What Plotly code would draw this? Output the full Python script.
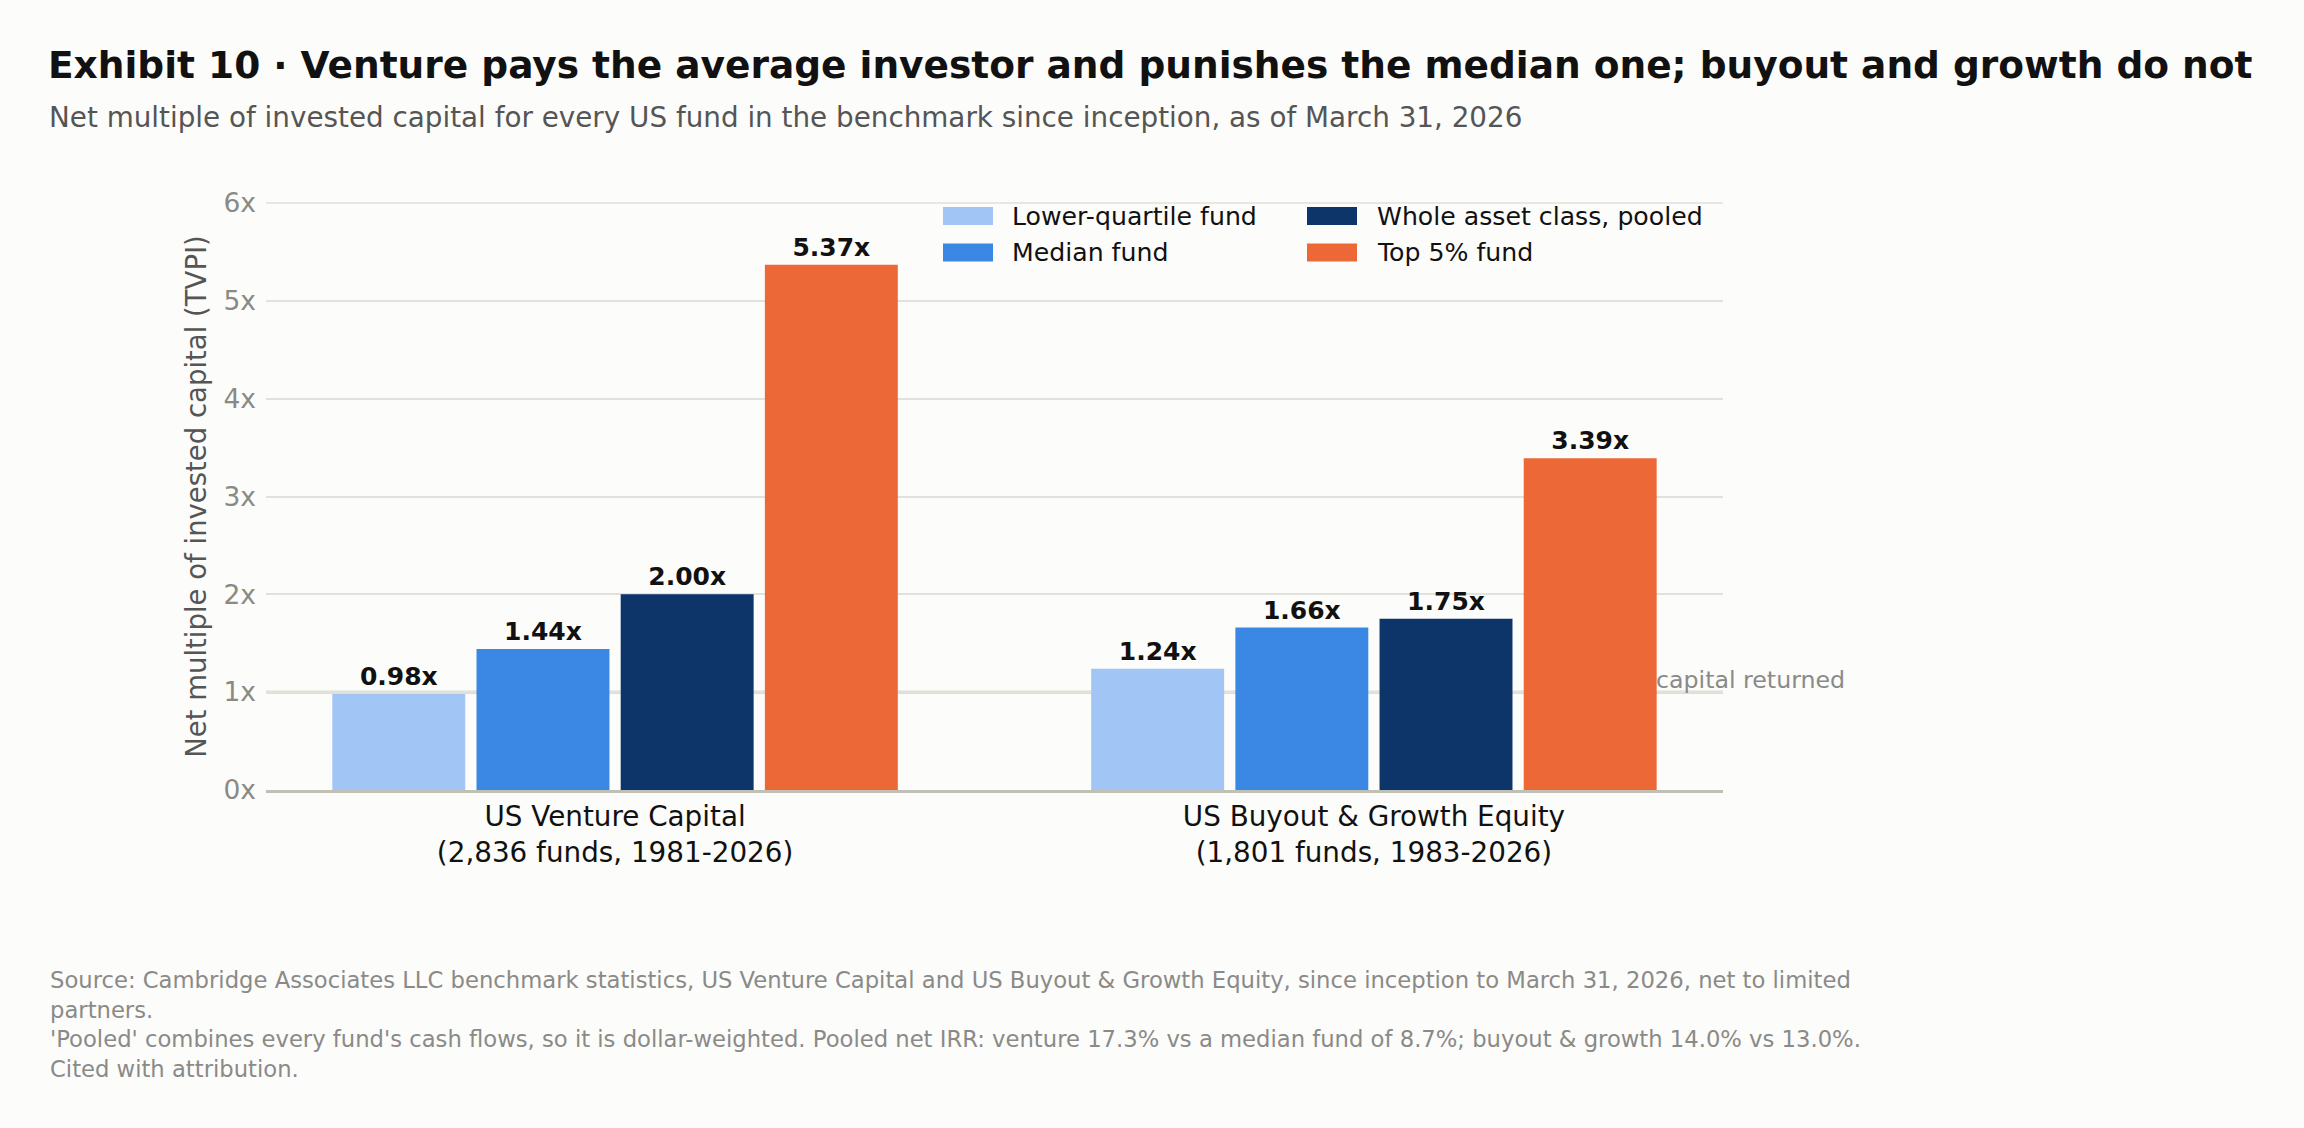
import plotly.graph_objects as go

# ---- data ----
categories = [
    "US Venture Capital<br>(2,836 funds, 1981-2026)",
    "US Buyout & Growth Equity<br>(1,801 funds, 1983-2026)",
]
series_names = ["Lower-quartile fund", "Median fund", "Whole asset class, pooled", "Top 5% fund"]
lower_quartile = [0.98, 1.24]
median_fund = [1.44, 1.66]
pooled = [2.00, 1.75]
top5 = [5.37, 3.39]
y_tick_vals = [0, 1, 2, 3, 4, 5, 6]
y_tick_text = ["0x", "1x", "2x", "3x", "4x", "5x", "6x"]

title_text = "Exhibit 10 · Venture pays the average investor and punishes the median one; buyout and growth do not"
subtitle_text = "Net multiple of invested capital for every US fund in the benchmark since inception, as of March 31, 2026"
footer_text = (
    "Source: Cambridge Associates LLC benchmark statistics, US Venture Capital and US Buyout &amp; Growth Equity, since inception to March 31, 2026, net to limited<br>"
    "partners.<br>"
    "'Pooled' combines every fund's cash flows, so it is dollar-weighted. Pooled net IRR: venture 17.3% vs a median fund of 8.7%; buyout &amp; growth 14.0% vs 13.0%.<br>"
    "Cited with attribution."
)
ref_label = "capital returned"

# ---- style ----
colors = ["#a1c5f4", "#3a88e4", "#0d356a", "#ec6836"]
FONT = "DejaVu Sans"
BG = "#fcfcfa"
W, H = 2304, 1128
L, R, T, B = 266, 581, 203, 338
PW, PH = W - L - R, H - T - B


def px(x):
    return (x - L) / PW


def py(y):
    return (H - B - y) / PH


fig = go.Figure()
for name, vals, col in zip(series_names, [lower_quartile, median_fund, pooled, top5], colors):
    fig.add_trace(go.Bar(
        name=name, x=categories, y=vals, marker=dict(color=col, line=dict(width=0)),
        texttemplate="%{y:.2f}x", textposition="outside", constraintext="none",
        textfont=dict(family=FONT, size=25, color="#111111", weight="bold"),
        cliponaxis=False, showlegend=False, hoverinfo="skip",
    ))

shapes = [
    dict(type="line", xref="paper", yref="y", x0=0, x1=1, y0=1, y1=1,
         line=dict(color="#c0c0b5", width=2.7), layer="between"),
    dict(type="line", xref="paper", yref="paper", x0=0, x1=1, y0=1, y1=1,
         line=dict(color="#e2e2db", width=1.7), layer="below"),
]
annotations = [
    dict(text=title_text, xref="paper", yref="paper", x=px(46), y=py(65.4), xanchor="left", yanchor="middle",
         showarrow=False, font=dict(family=FONT, size=37.5, color="#111111", weight="bold")),
    dict(text=subtitle_text, xref="paper", yref="paper", x=px(47), y=py(117), xanchor="left", yanchor="middle",
         showarrow=False, font=dict(family=FONT, size=27.8, color="#555555")),
    dict(text=footer_text, xref="paper", yref="paper", x=px(47.5), y=py(965), xanchor="left", yanchor="top",
         align="left", showarrow=False, font=dict(family=FONT, size=22.7, color="#8a8a88")),
    dict(text=ref_label, xref="paper", yref="y", x=px(1847), y=1, yshift=12.5, xanchor="right", yanchor="middle",
         showarrow=False, font=dict(family=FONT, size=23.7, color="#8a8a88")),
]

# legend (two columns)
legend_cols = [(943, 993, 1010), (943, 993, 1010), (1307, 1357, 1375), (1307, 1357, 1375)]
legend_rows = [(207, 225, 216.5), (243.5, 261.5, 252.2), (207, 225, 216.5), (243.5, 261.5, 252.2)]
for name, col, (x0, x1, xt), (y0, y1, yt) in zip(series_names, colors, legend_cols, legend_rows):
    shapes.append(dict(type="rect", xref="paper", yref="paper", x0=px(x0), x1=px(x1), y0=py(y1), y1=py(y0),
                       fillcolor=col, line=dict(width=0), layer="above"))
    annotations.append(dict(text=name, xref="paper", yref="paper", x=px(xt), y=py(yt), xanchor="left",
                            yanchor="middle", showarrow=False,
                            font=dict(family=FONT, size=25.2, color="#111111")))

fig.update_layout(
    width=W, height=H, autosize=False,
    margin=dict(l=L, r=R, t=T, b=B, pad=0),
    paper_bgcolor=BG, plot_bgcolor=BG,
    font=dict(family=FONT, color="#111111"),
    barmode="group", bargap=0.24, bargroupgap=0.078,
    showlegend=False,
    shapes=shapes, annotations=annotations,
    xaxis=dict(type="category", range=[-0.46, 1.46], showgrid=False, zeroline=False,
               showline=True, linecolor="#c0c0b5", linewidth=2.7, ticks="",
               tickfont=dict(family=FONT, size=27.8, color="#111111")),
    yaxis=dict(range=[0, 6], tickvals=y_tick_vals, ticktext=y_tick_text, showgrid=True,
               gridcolor="#e2e2db", gridwidth=1.7, zeroline=False, showline=False, ticks="",
               ticklabelstandoff=9,
               tickfont=dict(family=FONT, size=26.5, color="#8a8a85"),
               title=dict(text="Net multiple of invested capital (TVPI)", standoff=8,
                          font=dict(family=FONT, size=27.5, color="#555555"))),
)

fig.write_html("out.html", config={"displayModeBar": False},
               post_script="document.body.style.margin='0';document.body.style.overflow='hidden';")
